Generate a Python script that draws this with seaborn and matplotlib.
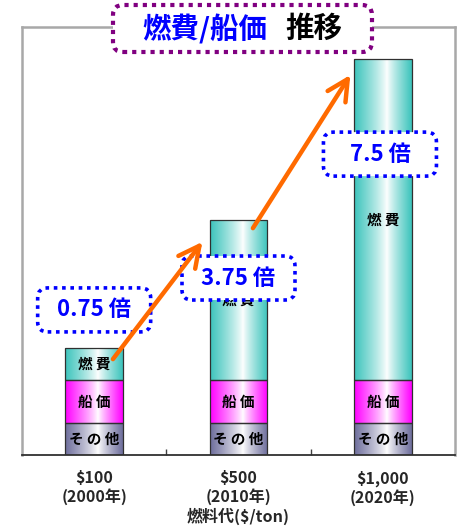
import numpy as np
import pandas as pd
import matplotlib
matplotlib.use("Agg")
import matplotlib.pyplot as plt
import matplotlib.colors as mcolors
from matplotlib.patches import FancyBboxPatch
from matplotlib.transforms import ScaledTranslation
import seaborn as sns

# ---------------- data ----------------
categories = ["$100\n(2000年)", "$500\n(2010年)", "$1,000\n(2020年)"]
other_vals = [0.75, 0.75, 0.75]      # その他
ship_vals = [1.0, 1.0, 1.0]          # 船価
fuel_vals = [0.75, 3.75, 7.5]        # 燃費
layer_names = ["そ の 他", "船 価", "燃 費"]
ratio_labels = ["0.75 倍", "3.75 倍", "7.5 倍"]
title_blue = "燃費/船価"
title_black = "推移"
xlabel = "燃料代($/ton)"

sns.set_theme(style="white")
FONT = ["Noto Sans CJK JP", "DejaVu Sans"]
plt.rcParams["font.family"] = FONT
plt.rcParams["font.weight"] = "bold"

fig = plt.figure(figsize=(4.58, 5.27), dpi=100)
ax = fig.add_axes([22 / 458, 1 - 455 / 527, (455 - 22) / 458, (455 - 27) / 527])

df = pd.DataFrame({"cat": categories, "other": other_vals,
                   "ship": ship_vals, "fuel": fuel_vals})
bottoms = [np.zeros(len(df)), np.array(other_vals),
           np.array(other_vals) + np.array(ship_vals)]
cols = ["other", "ship", "fuel"]
edge_colors = ["#6e6e9c", "#ff00ff", "#3cc4bc"]

layer_patches = []
for col, bot, ec in zip(cols, bottoms, edge_colors):
    n_before = len(ax.patches)
    sns.barplot(data=df, x="cat", y=col, bottom=bot, color=ec, width=0.4,
                edgecolor="#303030", linewidth=0.9, ax=ax, errorbar=None)
    layer_patches.append(ax.patches[n_before:])


def gradient_fill(patch, color, peak=0.57):
    x0, y0 = patch.get_x(), patch.get_y()
    w, h = patch.get_width(), patch.get_height()
    rgb = np.array(mcolors.to_rgb(color))
    t = np.linspace(0, 1, 200)
    f = np.where(t < peak, 1 - t / peak, (t - peak) / (1 - peak))
    f = f ** 0.85
    img = rgb[None, :] * f[:, None] + (1 - f[:, None]) * np.ones(3)
    im = ax.imshow(img[None, :, :], extent=(x0, x0 + w, y0, y0 + h),
                   aspect="auto", zorder=2, interpolation="bilinear")
    im.set_clip_path(patch)
    patch.set_facecolor("none")
    patch.set_zorder(2.5)


for patches, ec in zip(layer_patches, edge_colors):
    for p in patches:
        gradient_fill(p, ec)

# segment labels
for patches, name in zip(layer_patches, layer_names):
    for p in patches:
        ax.text(p.get_x() + p.get_width() / 2, p.get_y() + p.get_height() / 2,
                name, ha="center", va="center", fontsize=10.5,
                fontweight="bold", color="black", zorder=3)

ax.set_xlim(-0.5, 2.5)
ax.set_ylim(0, 10)
ax.set_yticks([])
ax.set_ylabel("")
ax.set_xlabel(xlabel, fontsize=11.5, fontweight="bold")
ax.xaxis.set_label_coords(0.5, (455 - 516) / 428)
ax.xaxis.label.set_va("center")
ax.tick_params(axis="x", which="major", length=0, pad=11, labelsize=11.5)
for lab in ax.get_xticklabels():
    lab.set_fontweight("bold")
    lab.set_linespacing(1.15)
ax.set_xticks([0.5, 1.5], minor=True)
ax.tick_params(axis="x", which="minor", direction="in", length=4,
               width=1, color="#404040", bottom=True)

for s in ["left", "top", "right"]:
    ax.spines[s].set_color("#a8a8a8")
    ax.spines[s].set_linewidth(1.8)
ax.spines["bottom"].set_color("#303030")
ax.spines["bottom"].set_linewidth(1.3)

# arrows (annotation)
arrow_kw = dict(arrowstyle="->,head_length=0.75,head_width=0.38",
                color="#ff6a00", lw=3.2, shrinkA=0, shrinkB=0,
                mutation_scale=20)
ax.annotate("", xy=(0.75, 4.98), xytext=(0.13, 2.24),
            arrowprops=arrow_kw, zorder=6)
ax.annotate("", xy=(1.775, 8.88), xytext=(1.10, 5.30),
            arrowprops=arrow_kw, zorder=6)

# ratio boxes
box_centers = [(0.0, 3.39), (1.0, 4.135), (1.98, 7.03)]
bw, bh = 1.13, 0.44
for (cx, cy), lab in zip(box_centers, ratio_labels):
    tr = fig.dpi_scale_trans + ScaledTranslation(cx, cy, ax.transData)
    box = FancyBboxPatch((-bw / 2, -bh / 2), bw, bh,
                         boxstyle="round,pad=0,rounding_size=0.1",
                         transform=tr, facecolor="white", edgecolor="#0000ff",
                         linewidth=2.6, linestyle=(0, (1, 1.3)), zorder=4)
    ax.add_artist(box)
    ax.text(cx, cy, lab, ha="center", va="center", fontsize=16,
            fontweight="bold", color="#0000ff", zorder=5)

# title box
tbox = FancyBboxPatch((113 / 100, (527 - 52) / 100), 2.59, 0.47,
                      boxstyle="round,pad=0,rounding_size=0.1",
                      transform=fig.dpi_scale_trans, facecolor="white",
                      edgecolor="#800080", linewidth=3,
                      linestyle=(0, (1, 1.2)), zorder=5)
fig.add_artist(tbox)
fig.text(142 / 458, 1 - 29 / 527, title_blue, ha="left", va="center",
         fontsize=20.5, fontweight="bold", color="#0000ff", zorder=6)
fig.text(285 / 458, 1 - 29 / 527, title_black, ha="left", va="center",
         fontsize=20.5, fontweight="bold", color="black", zorder=6)

fig.savefig("out.png", dpi=100)
